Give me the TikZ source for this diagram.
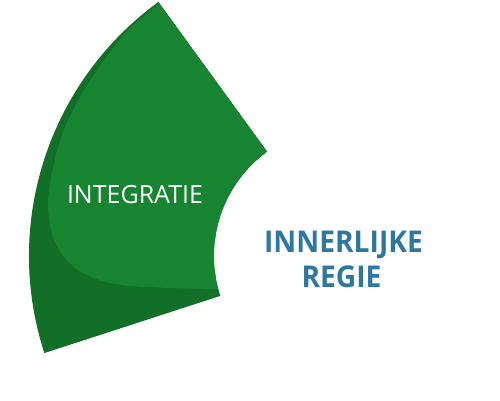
\documentclass[tikz,border=0pt]{standalone}
\usepackage{fontspec}
\setmainfont{Open Sans}
\usetikzlibrary{calc}
\definecolor{gmain}{RGB}{22,132,48}
\definecolor{gdark}{RGB}{17,111,39}
\definecolor{tblue}{RGB}{45,119,160}
\begin{document}
\begin{tikzpicture}[x=1pt,y=-1pt,
  lbl/.style={inner sep=0pt,anchor=base,font=\fontsize{25}{25}\selectfont,text=white},
  bluelbl/.style={inner sep=0pt,anchor=base,xscale=0.94,font=\bfseries\fontsize{30}{30}\selectfont,text=tblue}]
\useasboundingbox (0,0) rectangle (500,400);
\coordinate (C) at (343,256);
% sector outline
\path[fill=gdark] ($(C)+(234:313)$) coordinate (tc)
  -- ($(C)+(234:129)$) coordinate (rc)
  arc[start angle=234,end angle=162,radius=129] coordinate (br)
  -- ($(C)+(162:314)$) coordinate (bl)
  arc[start angle=162,end angle=234,radius=314] -- cycle;
% lighter face
\begin{scope}
\clip (tc) -- (rc) arc[start angle=234,end angle=162,radius=129] -- (bl)
  arc[start angle=162,end angle=234,radius=314] -- cycle;
\fill[gmain] (tc) -- (rc) arc[start angle=234,end angle=165.3,radius=129]
  -- plot[smooth] coordinates {(217,289) (170,288) (130,286) (102,281) (78,270) (61,253) (51,230) (48,200) (55,158) (66,125) (83,92) (104,60) (128,30) (150,11) (160,2)}
  -- cycle;
\end{scope}
\node[lbl] (integ) at (135,203) {INTEGRATIE};
\node[bluelbl] (inner) at (343.5,252) {INNERLIJKE};
\node[bluelbl] (regie) at (341.5,287) {REGIE};
\end{tikzpicture}
\end{document}
